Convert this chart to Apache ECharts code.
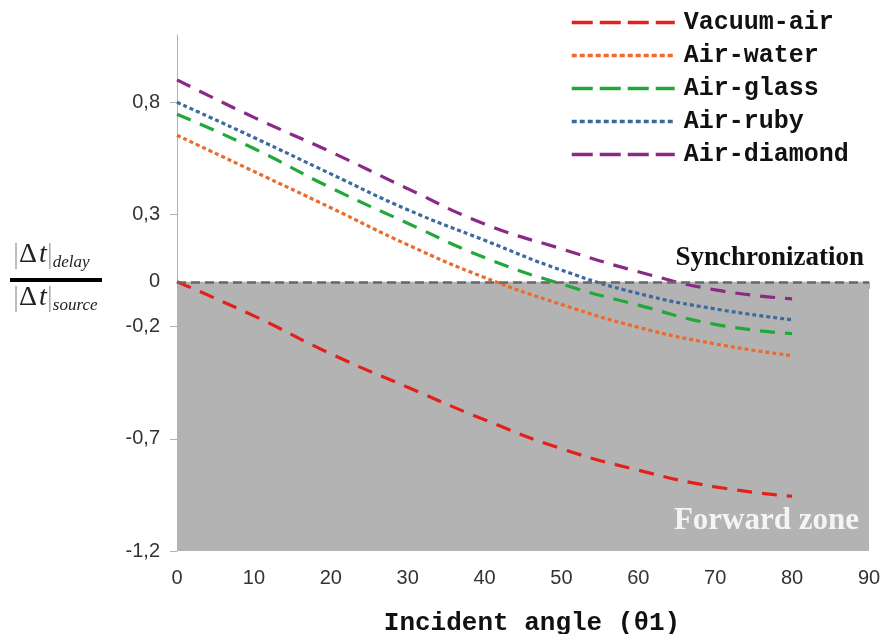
<!DOCTYPE html>
<html>
<head>
<meta charset="utf-8">
<script src="https://cdn.jsdelivr.net/npm/echarts@6/dist/echarts.min.js"></script>
<style>
  html, body { margin: 0; padding: 0; background: #fff; }
  #chart { width: 883px; height: 634px; }
</style>
</head>
<body>
<div id="chart"></div>
<script>
// incident angle in degrees
var angles = [0, 10, 20, 30, 40, 50, 60, 70, 80]
var seriesNames = ['Vacuum-air', 'Air-water', 'Air-glass', 'Air-ruby', 'Air-diamond']
var vacuumAir = [0, -0.152, -0.321, -0.47, -0.615, -0.744, -0.84, -0.914, -0.956]
var airWater = [0.653, 0.492, 0.33, 0.165, 0.019, -0.101, -0.203, -0.277, -0.329]
var airGlass = [0.747, 0.594, 0.419, 0.261, 0.108, -0.01, -0.104, -0.19, -0.231]
var airRuby = [0.8, 0.643, 0.481, 0.321, 0.185, 0.052, -0.052, -0.121, -0.169]
var airDiamond = [0.9, 0.733, 0.579, 0.415, 0.258, 0.147, 0.045, -0.036, -0.076]
var yTicks = [-1.2, -0.7, -0.2, 0.3, 0.8]
var yLabels = [-1.2, -0.7, -0.2, 0, 0.3, 0.8]

var colors = ['#e3201b', '#ec6a2c', '#22a83a', '#3d6a9e', '#8b2a86']
var dashes = [[15, 10], [4, 3], [15, 10], [4, 3], [15, 10]]
var legendDashes = [[21, 7], [5, 3], [21, 7], [5, 3], [21, 7]]
var values = [vacuumAir, airWater, airGlass, airRuby, airDiamond]

function pairs(vals) {
  return angles.map(function(a, i) { return [a, vals[i]] })
}

var series = [{
  // background zone + synchronization line
  name: 'zone',
  type: 'line',
  data: [],
  z: 1,
  markArea: {
    silent: true,
    itemStyle: { color: '#b3b3b3' },
    data: [[{ xAxis: 0, yAxis: 0 }, { xAxis: 90, yAxis: -1.2 }]]
  },
  markLine: {
    silent: true,
    symbol: 'none',
    label: { show: false },
    lineStyle: { color: '#686868', type: [9, 5], width: 2.5 },
    data: [{ yAxis: 0 }]
  }
}]
var legendData = []
for (var i = 0; i < seriesNames.length; i++) {
  series.push({
    name: seriesNames[i],
    type: 'line',
    smooth: true,
    symbol: 'none',
    z: 3,
    lineStyle: { color: colors[i], width: 3.2, type: dashes[i] },
    itemStyle: { color: colors[i] },
    data: pairs(values[i])
  })
  legendData.push({
    name: seriesNames[i],
    itemStyle: { opacity: 0 },
    lineStyle: { type: legendDashes[i], width: 3.5 }
  })
}

var chart = echarts.init(document.getElementById('chart'))
chart.setOption({
  animation: false,
  grid: { left: 177, right: 14, top: 35, bottom: 83, outerBoundsMode: 'none', containLabel: false },
  legend: {
    data: legendData,
    orient: 'vertical',
    left: 565,
    top: 5,
    itemWidth: 103,
    itemHeight: 14,
    itemGap: 8,
    textStyle: {
      fontFamily: 'Liberation Mono',
      fontWeight: 'bold',
      fontSize: 25,
      color: '#111',
      padding: [0, 0, 0, 4]
    }
  },
  xAxis: {
    type: 'value',
    min: 0,
    max: 90,
    interval: 10,
    name: 'Incident angle (θ1)',
    nameLocation: 'middle',
    nameGap: 59,
    nameTextStyle: {
      fontFamily: 'Liberation Mono',
      fontWeight: 'bold',
      fontSize: 26,
      color: '#111',
      padding: [0, 0, 0, 18]
    },
    axisLine: { lineStyle: { color: '#b0b0b0' } },
    axisTick: { length: 7, lineStyle: { color: '#b0b0b0' } },
    axisLabel: { fontFamily: 'Liberation Sans', fontSize: 20, color: '#333', margin: 17 },
    splitLine: { show: false }
  },
  yAxis: {
    type: 'value',
    min: -1.2,
    max: 1.1,
    axisLine: { show: true, lineStyle: { color: '#b0b0b0' } },
    axisTick: { show: true, length: 7, customValues: yTicks, lineStyle: { color: '#b0b0b0' } },
    axisLabel: {
      customValues: yLabels,
      fontFamily: 'Liberation Sans',
      fontSize: 20,
      color: '#333',
      margin: 17,
      formatter: function(v) { return String(v).replace('.', ',') }
    },
    splitLine: { show: false }
  },
  graphic: [
    {
      type: 'text',
      right: 19,
      top: 245,
      z: 100,
      style: {
        text: 'Synchronization',
        font: 'bold 27px "Liberation Serif"',
        fill: '#111'
      }
    },
    {
      type: 'text',
      right: 24,
      top: 505,
      z: 100,
      style: {
        text: 'Forward zone',
        font: 'bold 31px "Liberation Serif"',
        fill: '#f4f4f4'
      }
    },
    // y axis title: |Δt|delay / |Δt|source
    {
      type: 'text',
      left: 13,
      top: 240,
      z: 100,
      style: {
        text: '{b||}{d|Δ}{t|t}{b||}{s|delay}',
        rich: {
          b: { font: '30px "Liberation Serif"', fill: '#aaa' },
          d: { font: '28px "Liberation Serif"', fill: '#222', padding: [0, 2, 0, 0] },
          t: { font: 'italic 28px "Liberation Serif"', fill: '#222' },
          s: { font: 'italic 17px "Liberation Serif"', fill: '#222', padding: [16, 0, 0, 0] }
        }
      }
    },
    {
      type: 'rect',
      z: 100,
      shape: { x: 10, y: 278, width: 92, height: 4 },
      style: { fill: '#000' }
    },
    {
      type: 'text',
      left: 13,
      top: 283,
      z: 100,
      style: {
        text: '{b||}{d|Δ}{t|t}{b||}{s|source}',
        rich: {
          b: { font: '30px "Liberation Serif"', fill: '#aaa' },
          d: { font: '28px "Liberation Serif"', fill: '#222', padding: [0, 2, 0, 0] },
          t: { font: 'italic 28px "Liberation Serif"', fill: '#222' },
          s: { font: 'italic 17px "Liberation Serif"', fill: '#222', padding: [16, 0, 0, 0] }
        }
      }
    }
  ],
  series: series
})
</script>
</body>
</html>
